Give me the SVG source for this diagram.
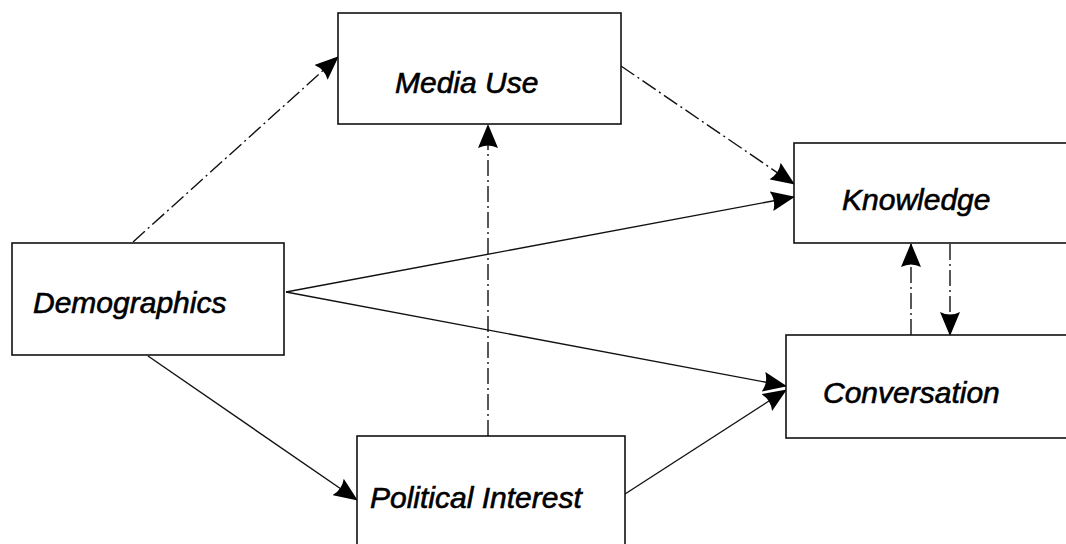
<svg xmlns="http://www.w3.org/2000/svg" width="1066" height="544" viewBox="0 0 1066 544">
<defs>
<style>
.box{fill:#fff;stroke:#111;stroke-width:1.6}
.lbl{font-family:"Liberation Sans",Arial,sans-serif;font-style:italic;font-size:30px;fill:#000;stroke:#000;stroke-width:0.6}
.c{fill:none;stroke:#111;stroke-width:1.4}
.d{stroke-dasharray:16 4 2 4}
</style>
<marker id="ah" viewBox="0 0 24 20" refX="23" refY="10" markerWidth="24" markerHeight="20" markerUnits="userSpaceOnUse" orient="auto">
<path d="M0,0 L24,10 L0,20 Q5,10 0,0 Z" fill="#000"/>
</marker>
</defs>
<rect width="1066" height="544" fill="#fff"/>
<g id="connectors">
<line class="c d" x1="133" y1="242" x2="338" y2="57" marker-end="url(#ah)"/>
<line class="c d" x1="621" y1="66" x2="794" y2="184" marker-end="url(#ah)"/>
<line class="c" x1="286" y1="292" x2="794" y2="197" marker-end="url(#ah)"/>
<line class="c" x1="286" y1="292" x2="786" y2="386" marker-end="url(#ah)"/>
<line class="c" x1="148" y1="356" x2="357" y2="500" marker-end="url(#ah)"/>
<line class="c" x1="625" y1="494" x2="786" y2="390" marker-end="url(#ah)"/>
<line class="c d" x1="488" y1="436" x2="488" y2="125" marker-end="url(#ah)"/>
<line class="c d" x1="911" y1="335" x2="911" y2="244" marker-end="url(#ah)"/>
<line class="c d" x1="950" y1="244" x2="950" y2="335" marker-end="url(#ah)"/>
</g>
<g id="demographics">
<rect class="box" x="12" y="243" width="272" height="112"/>
<text class="lbl" x="33" y="313">Demographics</text>
</g>
<g id="media-use">
<rect class="box" x="338" y="13" width="283" height="111"/>
<text class="lbl" x="395" y="93">Media Use</text>
</g>
<g id="political-interest">
<rect class="box" x="357" y="436" width="268" height="120"/>
<text class="lbl" x="370" y="508">Political Interest</text>
</g>
<g id="knowledge">
<rect class="box" x="794" y="143" width="290" height="100"/>
<text class="lbl" x="842" y="210">Knowledge</text>
</g>
<g id="conversation">
<rect class="box" x="786" y="335" width="298" height="103"/>
<text class="lbl" x="823" y="403">Conversation</text>
</g>
</svg>
